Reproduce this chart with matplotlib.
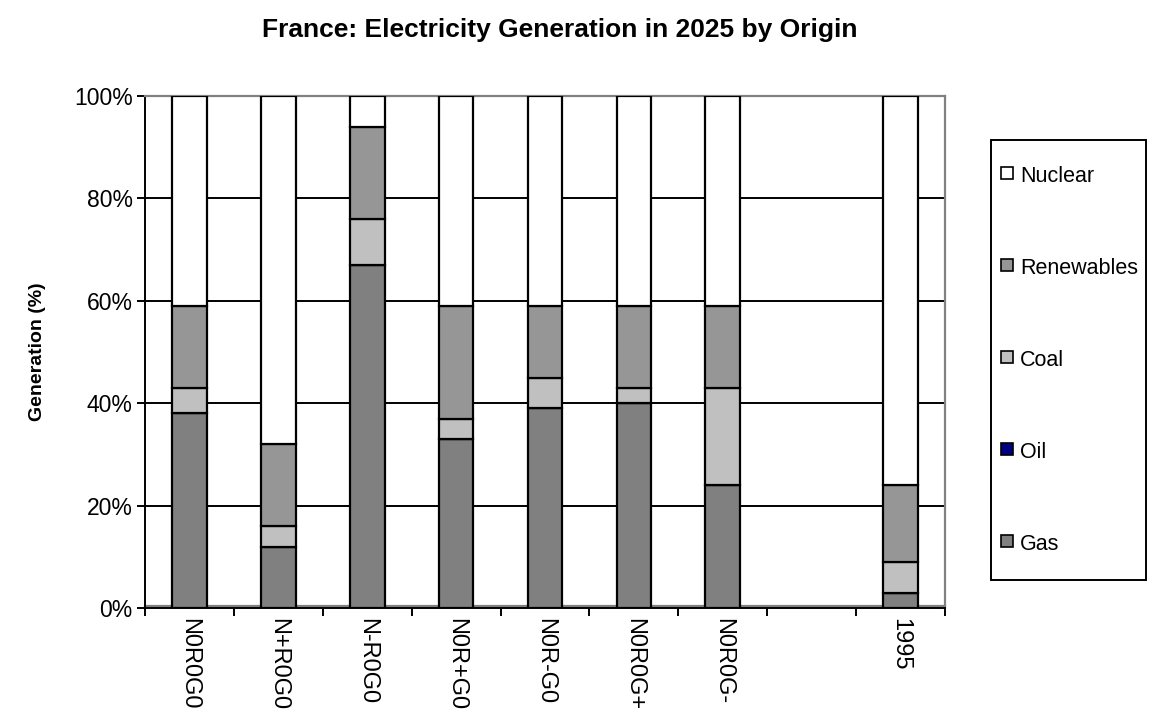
import matplotlib
matplotlib.use("Agg")
import matplotlib.pyplot as plt
import matplotlib.transforms as mtransforms
from matplotlib.patches import Rectangle

plt.rcParams['font.family'] = ['Liberation Sans', 'DejaVu Sans']

# Generation shares (%) by origin; the empty slot separates scenarios from 1995
categories = ['N0R0G0', 'N+R0G0', 'N-R0G0', 'N0R+G0', 'N0R-G0', 'N0R0G+', 'N0R0G-', '', '1995']
gas = [38, 12, 67, 33, 39, 40, 24, None, 3]
oil = [0, 0, 0, 0, 0, 0, 0, None, 0]
coal = [5, 4, 9, 4, 6, 3, 19, None, 6]
renewables = [16, 16, 18, 22, 14, 16, 16, None, 15]
nuclear = [41, 68, 6, 41, 41, 41, 41, None, 76]

series_names = ['Gas', 'Oil', 'Coal', 'Renewables', 'Nuclear']
series_values = [gas, oil, coal, renewables, nuclear]
series_colors = ['#808080', '#000080', '#C0C0C0', '#969696', '#FFFFFF']

W, H = 1156, 713
fig = plt.figure(figsize=(W / 100, H / 100), dpi=100)
ax = fig.add_axes([145 / W, 1 - 608 / H, 800 / W, 512 / H])

xs = [i for i, v in enumerate(gas) if v is not None]
bottom = [0.0] * len(xs)
for name, vals, col in zip(series_names, series_values, series_colors):
    heights = [vals[i] for i in xs]
    ax.bar(xs, heights, width=0.39, bottom=bottom, color=col,
           edgecolor='black', linewidth=1.6, zorder=3, label=name)
    bottom = [b + h for b, h in zip(bottom, heights)]

ax.set_xlim(-0.5, len(categories) - 0.5)
ax.set_ylim(0, 100)

# horizontal gridlines
for yv in [20, 40, 60, 80]:
    ax.axhline(yv, color='black', linewidth=1.4, zorder=1)

# grey floor line just above the category axis
floor = ax.get_yaxis_transform() + mtransforms.ScaledTranslation(0, 2.5 / 100, fig.dpi_scale_trans)
ax.plot([0, 1], [0, 0], color='#808080', linewidth=1.6, transform=floor, zorder=1, clip_on=False)

for side in ['left', 'bottom']:
    ax.spines[side].set_color('black')
    ax.spines[side].set_linewidth(1.4)
for side in ['top', 'right']:
    ax.spines[side].set_color('#808080')
    ax.spines[side].set_linewidth(1.6)

yt = [0, 20, 40, 60, 80, 100]
ax.set_yticks(yt)
ax.set_yticklabels([f'{v}%' for v in yt])
ax.tick_params(axis='y', direction='out', length=6, width=1.4, pad=3, labelsize=16.5)

ax.set_xticks([i - 0.5 for i in range(len(categories) + 1)])
ax.set_xticklabels([])
ax.tick_params(axis='x', which='major', direction='out', length=6, width=1.4)
ax.set_xticks(range(len(categories)), minor=True)
ax.set_xticklabels(categories, minor=True, rotation=270, va='top', ha='center')
ax.tick_params(axis='x', which='minor', length=0, pad=7, labelsize=17)

fig.text(560 / W, 1 - 30 / H, 'France: Electricity Generation in 2025 by Origin',
         ha='center', va='center', fontsize=19, fontweight='bold')
fig.text(38 / W, 1 - 352 / H, 'Generation (%)', rotation=90,
         ha='center', va='center', fontsize=14, fontweight='bold')

# legend box, entries listed top to bottom
lx0, ly0, lx1, ly1 = 991, 140, 1146, 580
fig.patches.append(Rectangle((lx0 / W, 1 - ly1 / H), (lx1 - lx0) / W, (ly1 - ly0) / H,
                             transform=fig.transFigure, facecolor='white',
                             edgecolor='black', linewidth=1.4, zorder=1))
for k, idx in enumerate(range(len(series_names) - 1, -1, -1)):
    yc = 176 + 92 * k
    fig.patches.append(Rectangle((1001 / W, 1 - (yc + 3) / H), 12 / W, 12 / H,
                                 transform=fig.transFigure, facecolor=series_colors[idx],
                                 edgecolor='black', linewidth=1.2, zorder=2))
    fig.text(1020 / W, 1 - yc / H, series_names[idx], ha='left', va='center',
             fontsize=15.5, zorder=3)

fig.savefig('out.png', dpi=100)
